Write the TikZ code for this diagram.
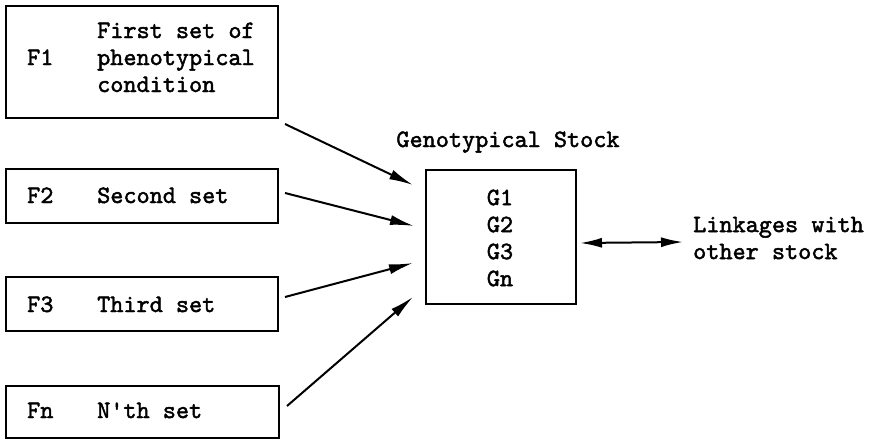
\documentclass[tikz,border=0pt]{standalone}
\usepackage{fontspec}
\setmonofont{lmmono10-regular.otf}[FakeBold=1.8]
\usetikzlibrary{arrows.meta}
\begin{document}
\begin{tikzpicture}[x=1pt,y=-1pt,
  font=\ttfamily\fontsize{25}{27}\selectfont,
  box/.style={draw, line width=2pt, inner sep=0pt, anchor=north west},
  txt/.style={inner sep=0pt, anchor=base west},
  arr/.style={line width=2pt, -{Latex[length=24pt,width=10pt]}},
  dblarr/.style={line width=2pt, {Latex[length=22pt,width=10pt]}-{Latex[length=22pt,width=10pt]}}]
\useasboundingbox (0,0) rectangle (871,439);

% phenotypical condition sets
\node[box, minimum width=272pt, minimum height=112pt] (f1) at (5,5) {};
\node[txt] (f1id) at (27,65) {F1};
\node[txt] (f1a) at (97,38) {First set of};
\node[txt] (f1b) at (97,65) {phenotypical};
\node[txt] (f1c) at (97,92) {condition};

\node[box, minimum width=272pt, minimum height=54pt] (f2) at (5,168) {};
\node[txt] (f2id) at (27,203) {F2};
\node[txt] (f2a) at (97,203) {Second set};

\node[box, minimum width=272pt, minimum height=54pt] (f3) at (5,276) {};
\node[txt] (f3id) at (27,312) {F3};
\node[txt] (f3a) at (97,312) {Third set};

\node[box, minimum width=273pt, minimum height=52pt] (fn) at (5,385) {};
\node[txt] (fnid) at (27,418) {Fn};
\node[txt] (fna) at (97,418) {N'th set};

% genotypical stock
\node[inner sep=0pt, anchor=base] (gtitle) at (508,147) {Genotypical Stock};
\node[box, minimum width=150pt, minimum height=134pt] (g) at (425,169) {};
\node[inner sep=0pt, align=center] (glist) at (500,238) {G1\\G2\\G3\\Gn};

% linkages
\node[inner sep=0pt, align=left, anchor=west] (link) at (693,238) {Linkages with\\other stock};

% connectors
\draw[arr] ([shift={(6,5)}]f1.south east) -- ([shift={(-12,16)}]g.north west);
\draw[arr] ([shift={(6,-3)}]f2.east) -- ([shift={(-11,57)}]g.north west);
\draw[arr] ([shift={(6,-7)}]f3.east) -- ([shift={(-12,94)}]g.north west);
\draw[arr] ([shift={(7,-6)}]fn.east) -- ([shift={(-12,128)}]g.north west);
\draw[dblarr] ([shift={(3,6)}]g.east) -- ([shift={(-10,4)}]link.west);
\end{tikzpicture}
\end{document}
